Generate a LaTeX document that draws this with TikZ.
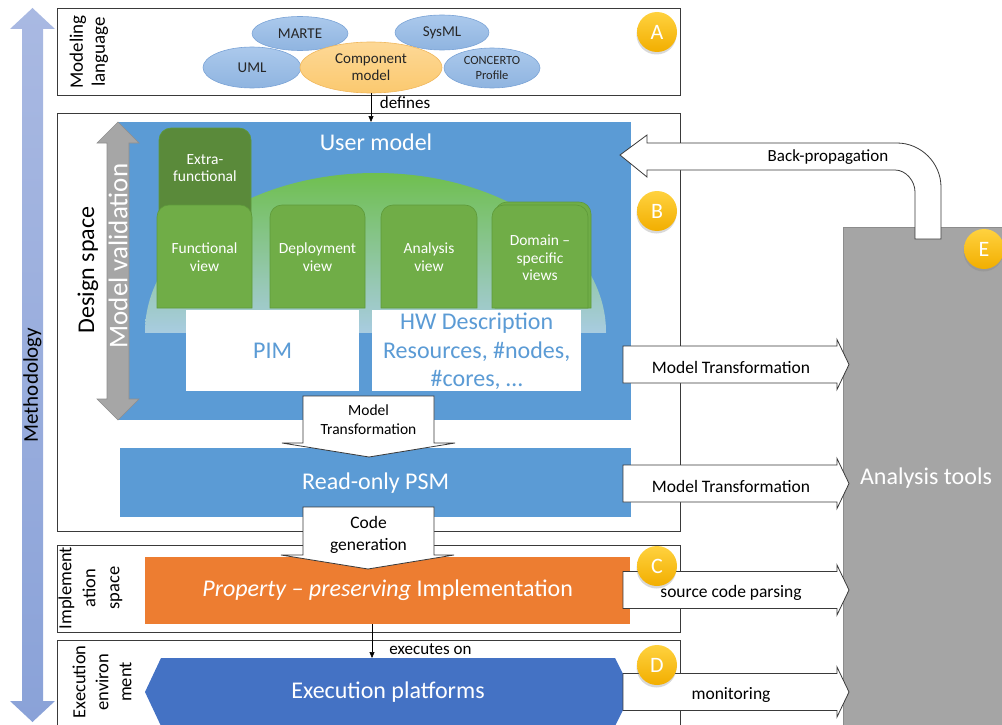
\documentclass[tikz,border=0pt]{standalone}
\usepackage{fontspec}
\setmainfont{Carlito}
\usetikzlibrary{shapes.geometric,shadows,arrows.meta,calc}

\definecolor{umblue}{HTML}{5B9BD5}
\definecolor{orng}{HTML}{ED7D31}
\definecolor{exblue}{HTML}{4472C4}
\definecolor{vgreen}{HTML}{70AD47}
\definecolor{vgreenB}{HTML}{5E9A3A}
\definecolor{dgreen}{HTML}{5A8A3A}
\definecolor{domeTop}{HTML}{6FBF4F}
\definecolor{domeMid}{HTML}{BEDFB0}
\definecolor{domeBot}{HTML}{A8CCE0}
\definecolor{toolgray}{HTML}{A5A5A5}
\definecolor{toolgrayB}{HTML}{8C8C8C}
\definecolor{valgray}{HTML}{A6A6A6}
\definecolor{valgrayB}{HTML}{8E8E8E}
\definecolor{ellTop}{HTML}{ABC9EC}
\definecolor{ellBot}{HTML}{8FB4E0}
\definecolor{ellB}{HTML}{7AA3D6}
\definecolor{compTop}{HTML}{FDD896}
\definecolor{compBot}{HTML}{FBC96F}
\definecolor{compB}{HTML}{F0B75C}
\definecolor{lineG}{HTML}{3A3A3A}
\definecolor{methTop}{HTML}{A9B9E2}
\definecolor{methBot}{HTML}{8AA2D8}
\definecolor{ballTop}{HTML}{FFD23F}
\definecolor{ballBot}{HTML}{F2AE00}

\newcommand\fsz[2]{\fontsize{#1}{#2}\selectfont}
% green view panel with rounded upper corners: x1, y1 (top), x2, y2 (bottom), fill
\newcommand\viewpanel[5]{%
  \draw[draw=vgreenB, fill=#5, line width=0.6pt]
    (#1,#4) [rounded corners=12pt] -- (#1,#2) -- (#3,#2) [sharp corners] -- (#3,#4) -- cycle;}

\begin{document}
\begin{tikzpicture}[x=1pt, y=-1pt, font=\fsz{17}{20},
  frame/.style={draw=lineG, line width=1.1pt, inner sep=0, anchor=north west},
  lang/.style={ellipse, draw=ellB, line width=0.6pt, top color=ellTop, bottom color=ellBot,
    inner sep=0, align=center, text=black!85, font=\fsz{15}{17}},
  badge/.style={circle, minimum size=40pt, inner sep=0, top color=ballTop, bottom color=ballBot,
    text=white, font=\fsz{22}{22},
    drop shadow={opacity=0.3, shadow xshift=-0.5pt, shadow yshift=-2.5pt}},
  blockarrow/.style={draw=lineG, fill=white, line width=0.8pt},
  panel/.style={inner sep=0, anchor=north west},
  sidetitle/.style={rotate=90, align=center},
  viewtext/.style={text=white, align=center, font=\fsz{15.5}{17.5}},
  bigwhite/.style={text=white, font=\fsz{24}{28}},
  pointer/.style={line width=0.6pt, -{Triangle[length=6pt,width=5pt]}}
]
\useasboundingbox (0,0) rectangle (1002,725);
\clip (0,0) rectangle (1002,725);

% methodology double arrow
\path[top color=methTop, bottom color=methBot]
  (32.5,8) -- (55,29) -- (43,29) -- (43,701) -- (55,701) -- (32.5,722)
  -- (10,701) -- (22,701) -- (22,29) -- (10,29) -- cycle;
\node[rotate=90, font=\fsz{21}{24}] (meth) at (32.5,385) {Methodology};

% layer frames
\node[frame, minimum width=623pt, minimum height=87pt] (boxA) at (57,8) {};
\node[frame, minimum width=623pt, minimum height=418pt] (boxB) at (57,113) {};
\node[frame, minimum width=623pt, minimum height=87pt] (boxC) at (57,545) {};
\node[frame, minimum width=623pt, minimum height=100pt] (boxD) at (57,640) {};

\node[sidetitle, font=\fsz{19}{22}] (tA) at (89,52) {Modeling\\language};
\node[sidetitle, font=\fsz{24}{28}] (tB) at (88,270) {Design space};
\node[sidetitle, font=\fsz{18.5}{24}] (tC) at (90.5,588) {Implement\\ation\\space};
\node[sidetitle, font=\fsz{18.5}{23}] (tD) at (102,682) {Execution\\environ\\ment};

% modeling languages
\node[lang, minimum width=98pt, minimum height=41pt] (uml) at (252,67.5) {UML};
\node[lang, minimum width=96pt, minimum height=40pt, font=\fsz{12.5}{15}] (concerto) at (492,68) {CONCERTO\\Profile};
\node[lang, minimum width=96pt, minimum height=34pt] (marte) at (300,33.5) {MARTE};
\node[lang, minimum width=94pt, minimum height=35pt] (sysml) at (442,32.5) {SysML};
\node[lang, minimum width=142pt, minimum height=51pt, draw=compB, top color=compTop, bottom color=compBot] (comp) at (371,67.5) {Component\\model};

% user model
\node[panel, fill=umblue, minimum width=513pt, minimum height=298pt] (user) at (118,122) {};
\begin{scope}
  \clip (375.5,332) ellipse [x radius=230.5, y radius=159];
  \path[top color=domeTop, middle color=domeMid, bottom color=domeBot]
    (140,173) rectangle (612,332);
\end{scope}
\node[bigwhite] (umtitle) at (376,142) {User model};

\viewpanel{159}{128}{251}{230}{dgreen}
\node[viewtext] (xf) at (205,168) {Extra-\\functional};
\viewpanel{157}{205}{252}{308}{vgreen}
\node[viewtext] (fv) at (204.5,257) {Functional\\view};
\viewpanel{270}{205}{365}{308}{vgreen}
\node[viewtext] (dv) at (317.5,257) {Deployment\\view};
\viewpanel{381}{205}{477}{308}{vgreen}
\node[viewtext] (av) at (429,257) {Analysis\\view};
\viewpanel{495}{202}{591}{308}{vgreen}
\viewpanel{492}{205}{588}{308}{vgreen}
\node[viewtext] (dsv) at (540,258) {Domain –\\specific\\views};

\node[panel, fill=white, minimum width=173pt, minimum height=81pt] (pim) at (186,310) {};
\node[text=umblue, font=\fsz{24}{28}] (pimlbl) at (pim.center) {PIM};
\node[panel, fill=white, minimum width=209pt, minimum height=81pt] (hw) at (372,310) {};
\node[text=umblue, align=center, font=\fsz{24}{28.5}] (hwlbl) at ($(hw.center)+(0,1)$) {HW Description\\Resources, \#nodes,\\\#cores, …};

% defines
\draw[pointer] (comp.south) -- (comp.south |- user.north);
\node (deflbl) at (405,103) {defines};

% model validation
\path[fill=valgray, draw=valgrayB, line width=0.6pt]
  (118,122) -- (139,143) -- (129,143) -- (129,399) -- (139,399) -- (118,420)
  -- (97,399) -- (107,399) -- (107,143) -- (97,143) -- cycle;
\node[rotate=90, text=white, font=\fsz{27}{30}] (mv) at (118,256) {Model validation};

% platform-specific model
\node[panel, fill=umblue, minimum width=511pt, minimum height=69pt] (psm) at (120,448) {};
\node[bigwhite] (psmlbl) at (psm.center) {Read-only PSM};

\path[blockarrow] (303,396) -- (434,396) -- (434,443) -- (455,443) -- (369,457)
  -- (282,443) -- (303,443) -- cycle;
\node[align=center, font=\fsz{15.5}{19}] (mtdown) at (368.5,419.5) {Model\\Transformation};

% implementation
\node[panel, fill=orng, minimum width=485pt, minimum height=67pt] (impl) at (145,557) {};
\node[bigwhite] (impllbl) at (impl.center) {\itshape Property – preserving\upshape\ Implementation};

\path[blockarrow] (303,507) -- (434,507) -- (434,555) -- (454,555) -- (368,569)
  -- (281,555) -- (303,555) -- cycle;
\node[align=center, font=\fsz{17.5}{22}] (cg) at (368.5,535) {Code\\generation};

% execution platforms
\fill[exblue] (145,692) -- (161,658) -- (615,658) -- (632,692) -- (615,726) -- (161,726) -- cycle;
\node[bigwhite] (exec) at (388,692) {Execution platforms};
\coordinate (exectop) at (372,658);
\draw[pointer] (impl.south -| exectop) -- (exectop);
\node (exlbl) at (430.5,649) {executes on};

% analysis tools
\node[panel, fill=toolgray, draw=toolgrayB, line width=0.8pt, minimum width=180pt, minimum height=520pt] (tools) at (843,227) {};
\node[bigwhite] (toolslbl) at (926,478) {Analysis tools};

% transformations towards the analysis tools
\foreach \yc/\lab [count=\i] in {364.5/Model Transformation, 483.5/Model Transformation,
                                 590/source code parsing, 692/monitoring} {
  \path[blockarrow] (623,\yc-18.5) -- (837,\yc-18.5) -- (837,\yc-25) -- (849,\yc)
    -- (837,\yc+25) -- (837,\yc+18.5) -- (623,\yc+18.5) -- cycle;
  \node[font=\fsz{17.5}{20}] (out\i) at (731,\yc+3) {\lab};
}

% back-propagation
\path[blockarrow] (620,155) -- (647,135) -- (647,143) -- (897,143)
  .. controls (921,143) and (941,163) .. (941,187) -- (941,239) -- (915,239) -- (915,192)
  .. controls (915,181) and (906,170) .. (895,170) -- (647,170) -- (647,177) -- cycle;
\node (bplbl) at (828,157) {Back-propagation};

% layer badges
\node[badge] (cA) at (657,32) {A};
\node[badge] (cB) at (657,211) {B};
\node[badge] (cC) at (657,566) {C};
\node[badge] (cD) at (657,665) {D};
\node[badge] (cE) at (984,249) {E};
\end{tikzpicture}
\end{document}
